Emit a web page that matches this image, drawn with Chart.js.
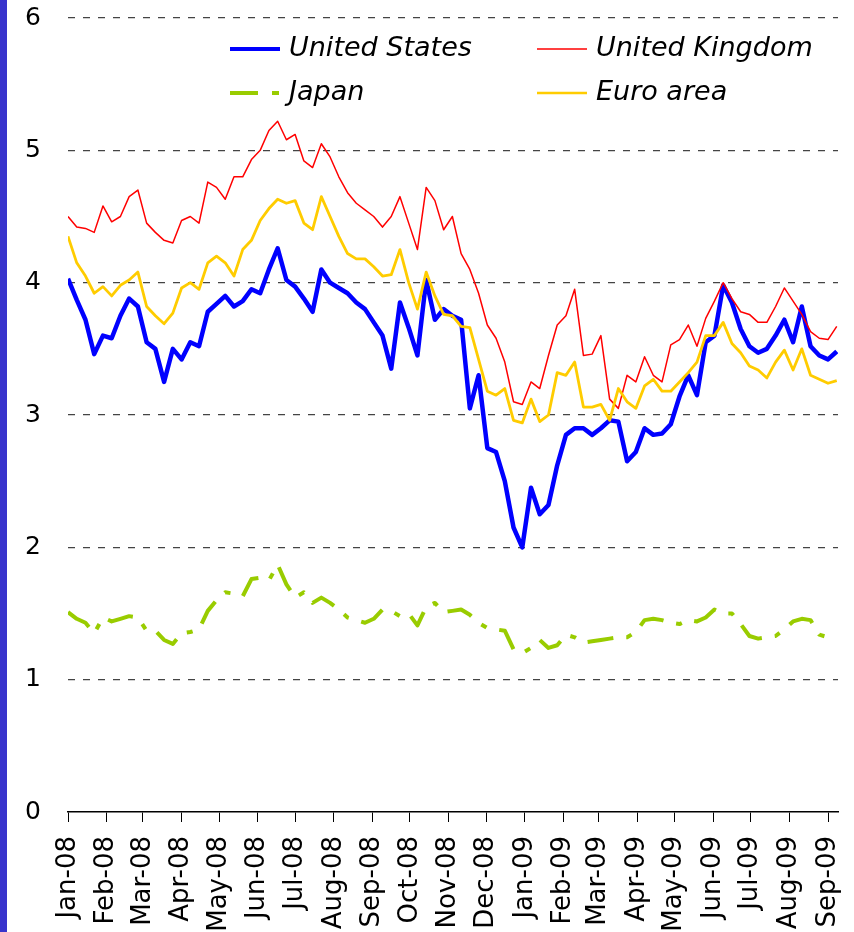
<!DOCTYPE html>
<html>
<head>
<meta charset="utf-8">
<script src="https://cdn.jsdelivr.net/npm/chart.js@4"></script>
<style>
  html, body { margin: 0; padding: 0; background: #fff; overflow: hidden; }
  .side-bar { position: absolute; left: 0; top: 0; width: 7px; height: 932px; background: #3833cc; }
  .wrap { position: absolute; left: 0; top: 0; }
</style>
</head>
<body>
<div class="wrap"><canvas id="chart" width="854" height="1000"></canvas></div>
<div class="side-bar"></div>
<script>
// weekly readings, starting 1 Jan 2008 (percent)
const usYield = [
  4.03, 3.87, 3.72, 3.46, 3.60, 3.58, 3.75, 3.88, 3.82, 3.55,
  3.50, 3.25, 3.50, 3.42, 3.55, 3.52, 3.78, 3.84, 3.90, 3.82,
  3.86, 3.95, 3.92, 4.10, 4.26, 4.02, 3.97, 3.88, 3.78, 4.10,
  4.00, 3.96, 3.92, 3.85, 3.80, 3.70, 3.60, 3.35, 3.85, 3.66,
  3.45, 4.02, 3.72, 3.80, 3.75, 3.72, 3.05, 3.30, 2.75, 2.72,
  2.50, 2.15, 2.00, 2.45, 2.25, 2.32, 2.62, 2.85, 2.90, 2.90,
  2.85, 2.90, 2.96, 2.95, 2.65, 2.72, 2.90, 2.85, 2.86, 2.93,
  3.14, 3.30, 3.15, 3.55, 3.60, 3.98, 3.85, 3.65, 3.52, 3.47,
  3.50, 3.60, 3.72, 3.55, 3.82, 3.52, 3.45, 3.42, 3.48
];
const ukYield = [
  4.50, 4.42, 4.41, 4.38, 4.58, 4.46, 4.50, 4.65, 4.70, 4.45,
  4.38, 4.32, 4.30, 4.47, 4.50, 4.45, 4.76, 4.72, 4.63, 4.80,
  4.80, 4.93, 5.00, 5.15, 5.22, 5.08, 5.12, 4.92, 4.87, 5.05,
  4.95, 4.80, 4.68, 4.60, 4.55, 4.50, 4.42, 4.50, 4.65, 4.45,
  4.25, 4.72, 4.62, 4.40, 4.50, 4.22, 4.10, 3.92, 3.68, 3.58,
  3.40, 3.10, 3.08, 3.25, 3.20, 3.45, 3.68, 3.75, 3.95, 3.45,
  3.46, 3.60, 3.12, 3.05, 3.30, 3.25, 3.44, 3.30, 3.25, 3.53,
  3.57, 3.68, 3.52, 3.73, 3.86, 4.00, 3.88, 3.78, 3.76, 3.70,
  3.70, 3.82, 3.96, 3.86, 3.76, 3.63, 3.58, 3.57, 3.67
];
const japanYield = [
  1.51, 1.46, 1.43, 1.35, 1.47, 1.44, 1.46, 1.48, 1.47, 1.37,
  1.37, 1.30, 1.27, 1.35, 1.36, 1.38, 1.52, 1.60, 1.66, 1.65,
  1.63, 1.76, 1.77, 1.75, 1.87, 1.72, 1.62, 1.66, 1.58, 1.62,
  1.58, 1.53, 1.47, 1.45, 1.43, 1.46, 1.53, 1.52, 1.48, 1.50,
  1.41, 1.55, 1.58, 1.51, 1.52, 1.53, 1.49, 1.43, 1.39, 1.38,
  1.37, 1.23, 1.20, 1.24, 1.30, 1.24, 1.26, 1.34, 1.32, 1.28,
  1.29, 1.30, 1.31, 1.32, 1.32, 1.36, 1.45, 1.46, 1.45, 1.43,
  1.42, 1.45, 1.44, 1.47, 1.53, 1.50, 1.50, 1.42, 1.33, 1.31,
  1.32, 1.33, 1.38, 1.44, 1.46, 1.45, 1.34, 1.32, 1.32
];
const euroYield = [
  4.35, 4.15, 4.05, 3.92, 3.97, 3.90, 3.98, 4.02, 4.08, 3.82,
  3.75, 3.69, 3.77, 3.96, 4.00, 3.95, 4.15, 4.20, 4.15, 4.05,
  4.25, 4.32, 4.47, 4.56, 4.63, 4.60, 4.62, 4.45, 4.40, 4.65,
  4.50, 4.35, 4.22, 4.18, 4.18, 4.12, 4.05, 4.06, 4.25, 4.00,
  3.80, 4.08, 3.90, 3.76, 3.75, 3.67, 3.66, 3.42, 3.18, 3.15,
  3.20, 2.96, 2.94, 3.12, 2.95, 3.00, 3.32, 3.30, 3.40, 3.06,
  3.06, 3.08, 2.96, 3.20, 3.10, 3.05, 3.22, 3.27, 3.18, 3.18,
  3.25, 3.32, 3.40, 3.60, 3.60, 3.70, 3.54, 3.47, 3.37, 3.34,
  3.28, 3.40, 3.49, 3.34, 3.50, 3.30, 3.27, 3.24, 3.26
];

const monthLabels = [
  'Jan-08', 'Feb-08', 'Mar-08', 'Apr-08', 'May-08', 'Jun-08', 'Jul-08',
  'Aug-08', 'Sep-08', 'Oct-08', 'Nov-08', 'Dec-08', 'Jan-09', 'Feb-09',
  'Mar-09', 'Apr-09', 'May-09', 'Jun-09', 'Jul-09', 'Aug-09', 'Sep-09'
];
// day number of each month start, counted from 1 Jan 2008
const monthStartDays = [
  0, 31, 60, 91, 121, 152, 182, 213, 244, 274, 305,
  335, 366, 397, 425, 456, 486, 517, 547, 578, 609
];
const yTicks = [0, 1, 2, 3, 4, 5, 6];

const toPoints = (arr) => arr.map((v, i) => ({ x: i * 7, y: v }));

const legendItems = [
  { text: 'United States', color: '#0000ff', width: 4, col: 0, row: 0 },
  { text: 'United Kingdom', color: '#ff0000', width: 1.5, col: 1, row: 0 },
  { text: 'Japan', color: '#99cc00', width: 4, col: 0, row: 1, dash: [28, 14, 7, 40] },
  { text: 'Euro area', color: '#ffcc00', width: 2.5, col: 1, row: 1 }
];

const insideLegend = {
  id: 'insideLegend',
  afterDraw(chart) {
    const ctx = chart.ctx;
    ctx.save();
    ctx.font = 'italic 27px "DejaVu Sans"';
    ctx.fillStyle = '#000';
    ctx.textBaseline = 'middle';
    legendItems.forEach(it => {
      const x0 = it.col === 0 ? 230 : 537;
      const y = it.row === 0 ? 49 : 93;
      ctx.beginPath();
      ctx.strokeStyle = it.color;
      ctx.lineWidth = it.width;
      ctx.setLineDash(it.dash || []);
      ctx.moveTo(x0, y);
      ctx.lineTo(x0 + 50, y);
      ctx.stroke();
      ctx.setLineDash([]);
      ctx.fillText(it.text, x0 + 59, y);
    });
    ctx.restore();
  }
};

const ctx = document.getElementById('chart').getContext('2d');
new Chart(ctx, {
  type: 'line',
  data: {
    datasets: [
      { label: 'United States', data: toPoints(usYield), borderColor: '#0000ff', borderWidth: 4.5, order: 4 },
      { label: 'United Kingdom', data: toPoints(ukYield), borderColor: '#ff0000', borderWidth: 1.5, order: 3 },
      { label: 'Japan', data: toPoints(japanYield), borderColor: '#99cc00', borderWidth: 4, borderDash: [26, 13, 6, 13], order: 2 },
      { label: 'Euro area', data: toPoints(euroYield), borderColor: '#ffcc00', borderWidth: 2.8, order: 1 }
    ]
  },
  options: {
    responsive: false,
    animation: false,
    devicePixelRatio: 1,
    layout: { padding: { left: 0, right: 16, top: 18, bottom: 0 } },
    elements: {
      point: { radius: 0 },
      line: { tension: 0, borderJoinStyle: 'round', fill: false }
    },
    plugins: {
      legend: { display: false },
      tooltip: { enabled: false }
    },
    scales: {
      x: {
        type: 'linear',
        min: 0,
        max: 617,
        afterBuildTicks: (scale) => {
          scale.ticks = monthStartDays.map(v => ({ value: v }));
        },
        afterFit: (scale) => {
          scale.height = 188;
          scale.paddingLeft = 0;
          scale.paddingRight = 0;
        },
        ticks: {
          autoSkip: false,
          maxRotation: 90,
          minRotation: 90,
          padding: 14,
          color: '#000',
          font: { family: '"DejaVu Sans"', size: 26 },
          callback: (value, index) => monthLabels[index]
        },
        grid: {
          drawOnChartArea: false,
          drawTicks: true,
          tickLength: 10,
          tickColor: '#000',
          color: '#000'
        },
        border: { display: true, color: '#000', width: 1.5 }
      },
      y: {
        min: 0,
        max: 6,
        afterBuildTicks: (scale) => {
          scale.ticks = yTicks.map(v => ({ value: v }));
        },
        afterFit: (scale) => {
          scale.width = 68;
          scale.paddingTop = 0;
          scale.paddingBottom = 0;
        },
        ticks: {
          padding: 27,
          color: '#000',
          font: { family: '"DejaVu Sans"', size: 25 }
        },
        grid: {
          drawTicks: false,
          lineWidth: 1.2,
          color: (c) => (c.tick && c.tick.value === 0) ? 'rgba(0,0,0,0)' : '#444'
        },
        border: { display: false, dash: [7, 8] }
      }
    }
  },
  plugins: [insideLegend]
});
</script>
</body>
</html>
